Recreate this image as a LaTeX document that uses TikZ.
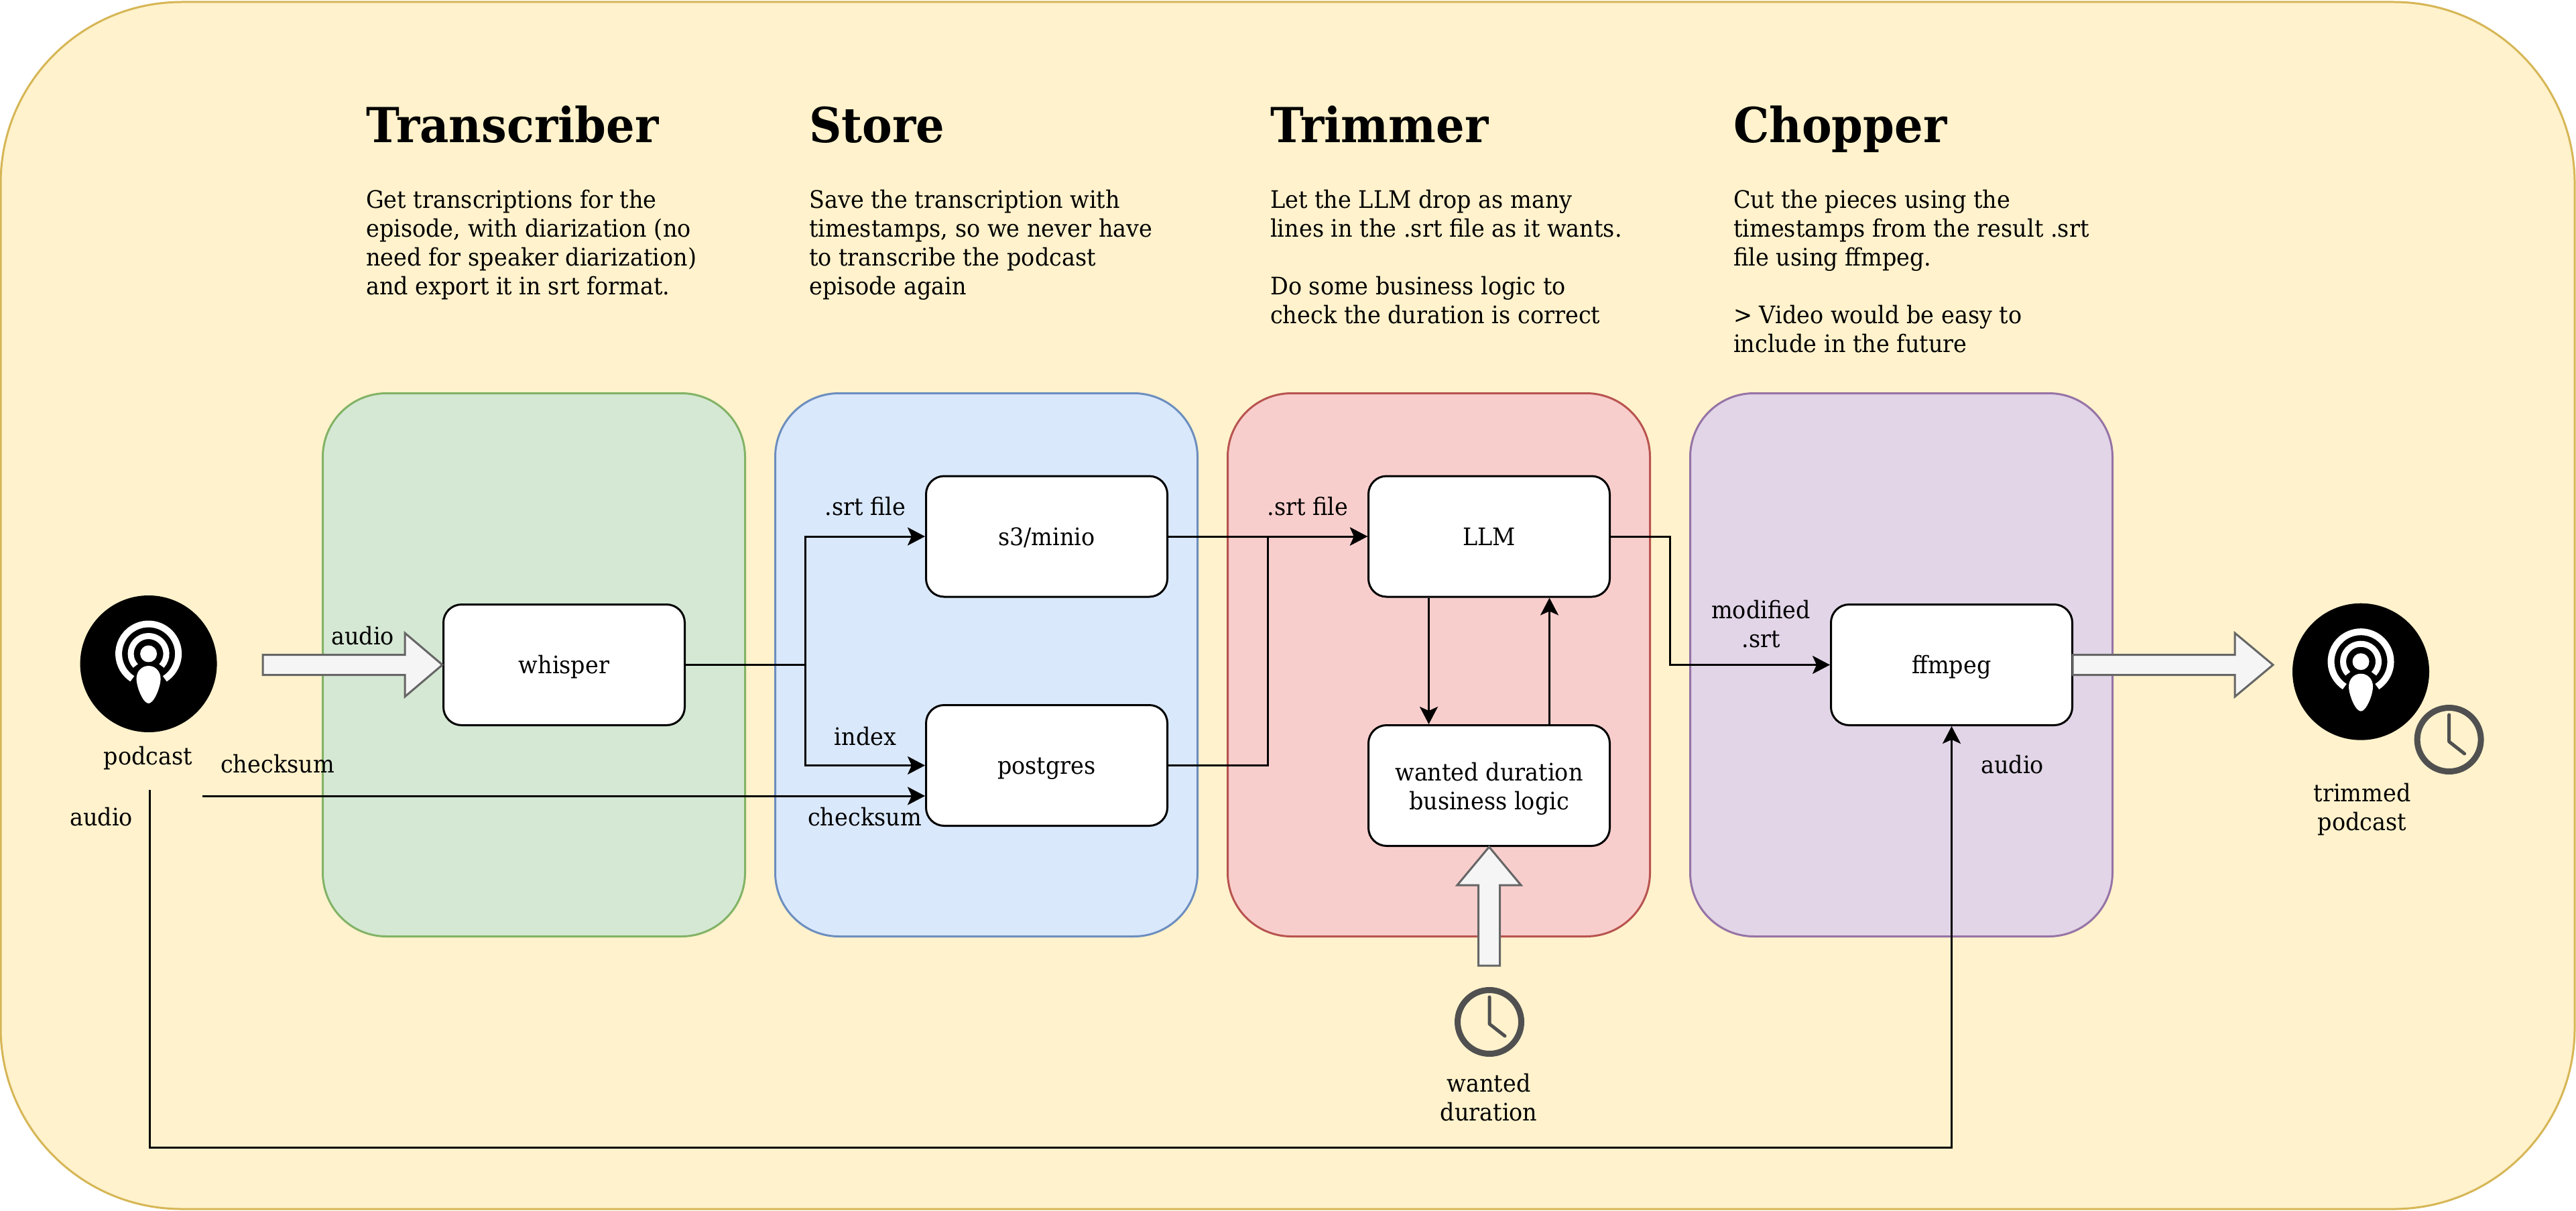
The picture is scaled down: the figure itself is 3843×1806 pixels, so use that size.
\documentclass[tikz,border=0pt]{standalone}
\usepackage{fontspec}
\setmainfont[FakeStretch=0.93]{DejaVu Serif}
\usetikzlibrary{arrows.meta,calc}
\definecolor{bgfill}{HTML}{FFF2CC}
\definecolor{bgline}{HTML}{D6B656}
\definecolor{greenfill}{HTML}{D5E8D4}
\definecolor{greenline}{HTML}{82B366}
\definecolor{bluefill}{HTML}{DAE8FC}
\definecolor{blueline}{HTML}{6C8EBF}
\definecolor{redfill}{HTML}{F8CECC}
\definecolor{redline}{HTML}{B85450}
\definecolor{purplefill}{HTML}{E1D5E7}
\definecolor{purpleline}{HTML}{9673A6}
\definecolor{clockgray}{HTML}{505050}
\tikzstyle{panel} = [rectangle, minimum width=630pt, minimum height=810pt, inner sep=0pt, rounded corners=95pt, line width=3pt]
\tikzstyle{procbox} = [rectangle, draw=black, fill=white, minimum width=360pt, minimum height=180pt, inner sep=0pt, rounded corners=27pt, line width=3pt, align=center, font=\fontsize{36}{43}\selectfont]
\tikzstyle{oneline} = [text height=36pt, text depth=10pt]
\tikzstyle{ptlabel} = [anchor=center, color=black, inner sep=0pt, align=center, font=\fontsize{36}{43}\selectfont]
\tikzstyle{heading} = [anchor=base west, color=black, inner sep=0pt, font=\fontsize{72}{86}\selectfont\bfseries]
\tikzstyle{bodytext} = [anchor=north west, color=black, inner sep=0pt, align=left, font=\fontsize{36}{43}\selectfont]
\tikzstyle{wire} = [draw=black, line width=3pt, -{Stealth[length=26pt,width=27pt,inset=6pt]}]
\tikzstyle{plainwire} = [draw=black, line width=3pt]
\tikzstyle{bigarrow} = [draw=black!60, fill=black!4, line width=3pt, line join=miter]
\tikzstyle{disc} = [circle, fill=black, minimum size=204pt, inner sep=0pt]
\tikzstyle{clockface} = [circle, draw=clockgray, line width=9pt, minimum size=95pt, inner sep=0pt]
\tikzset{
  podcastglyph/.pic={
    \begin{scope}[y=1pt, x=1pt, yshift=15pt]
      \draw[white, line width=10pt] (-57:44.5) arc[start angle=-57, end angle=237, radius=44.5];
      \draw[white, line width=9pt] (-43:26.5) arc[start angle=-43, end angle=223, radius=26.5];
      \fill[white] (0,0) circle (12.5);
      \fill[white] (0,-18) .. controls (10,-18) and (18,-26) .. (18,-37)
        .. controls (18,-50) and (8,-74) .. (0,-74)
        .. controls (-8,-74) and (-18,-50) .. (-18,-37)
        .. controls (-18,-26) and (-10,-18) .. (0,-18) -- cycle;
    \end{scope}
  },
  clockhands/.pic={
    \draw[clockgray, line width=5pt, line cap=round, line join=round] (0,-37) -- (0,3) -- (23,21);
  }
}

\begin{document}
\begin{tikzpicture}[x=1pt, y=-1pt]
  \useasboundingbox (0,0) rectangle (3843,1806);
  \node[at={(1921,903)}, rectangle, draw=bgline, fill=bgfill, line width=3pt, minimum width=3840pt, minimum height=1800pt, inner sep=0pt, rounded corners=270pt] (frame) {};

  % columns
  \node[at={(796.5,991.5)}, panel, draw=greenline, fill=greenfill] (transcol) {};
  \node[at={(1471.5,991.5)}, panel, draw=blueline, fill=bluefill] (storecol) {};
  \node[at={(2146.5,991.5)}, panel, draw=redline, fill=redfill] (trimcol) {};
  \node[at={(2836.5,991.5)}, panel, draw=purpleline, fill=purplefill] (chopcol) {};

  \node[at={(546,213)}, heading] (transtitle) {Transcriber};
  \node[at={(1207,213)}, heading] (storetitle) {Store};
  \node[at={(1895,213)}, heading] (trimtitle) {Trimmer};
  \node[at={(2586,213)}, heading] (choptitle) {Chopper};

  \node[at={(546,283)}, bodytext] (transtext) {Get transcriptions for the\\episode, with diarization (no\\need for speaker diarization)\\and export it in srt format.};
  \node[at={(1207,283)}, bodytext] (storetext) {Save the transcription with\\timestamps, so we never have\\to transcribe the podcast\\episode again};
  \node[at={(1895,283)}, bodytext] (trimtext) {Let the LLM drop as many\\lines in the .srt file as it wants.\\[43pt]Do some business logic to\\check the duration is correct};
  \node[at={(2586,283)}, bodytext] (choptext) {Cut the pieces using the\\timestamps from the result .srt\\file using ffmpeg.\\[43pt]> Video would be easy to\\include in the future};

  % boxes
  \node[at={(841.5,991.5)}, procbox, oneline] (whisper) {whisper};
  \node[at={(1561.5,800)}, procbox, oneline] (minio) {s3/minio};
  \node[at={(1561.5,1141.5)}, procbox, oneline] (postgres) {postgres};
  \node[at={(2221.5,800)}, procbox, oneline] (llm) {LLM};
  \node[at={(2221.5,1171.5)}, procbox] (logic) {\rule{0pt}{37pt}wanted duration\\business logic};
  \node[at={(2911.5,991.5)}, procbox, oneline] (ffmpeg) {ffmpeg};

  % icons
  \node[at={(221.6,990)}, disc] (podcast) {};
  \pic at (podcast.center) {podcastglyph};
  \node[at={(3522,1001.7)}, disc] (trimmed) {};
  \pic at (trimmed.center) {podcastglyph};
  \node[at={(3653.6,1103)}, clockface] (clockout) {};
  \pic at (clockout.center) {clockhands};
  \node[at={(2222,1524)}, clockface] (clockin) {};
  \pic at (clockin.center) {clockhands};

  % connectors
  \coordinate (split) at (1201.5,991.5);
  \coordinate (merge) at (1891.5,1141.5);
  \coordinate (bend) at (2491.5,800);
  \coordinate (checkstart) at (302,1187);
  \coordinate (audiostart) at (223,1178);
  \coordinate (audiolow) at (223,1711);
  \draw[plainwire] (whisper.east) -- (split);
  \draw[wire] (split) |- (minio.west);
  \draw[wire] (split) |- (postgres.west);
  \draw[wire] (minio.east) -- (llm.west);
  \draw[wire] (postgres.east) -- (merge) |- (llm.west);
  \draw[wire] (llm.east) -- (bend) |- (ffmpeg.west);
  \draw[wire] ([xshift=-90pt]llm.south) -- ([xshift=-90pt]logic.north);
  \draw[wire] ([xshift=90pt]logic.north) -- ([xshift=90pt]llm.south);
  \draw[wire] (checkstart) -- (checkstart -| postgres.west);
  \draw[wire] (audiostart) -- (audiolow) -| (ffmpeg.south);

  % block arrows
  \draw[bigarrow] (392,976.5) -- (604,976.5) -- (604,944) -- (660,991.5) -- (604,1039) -- (604,1006.5) -- (392,1006.5) -- cycle;
  \draw[bigarrow] (3092,976.5) -- (3334,976.5) -- (3334,944) -- (3391,991.5) -- (3334,1039) -- (3334,1006.5) -- (3092,1006.5) -- cycle;
  \draw[bigarrow] (2205.5,1440) -- (2205.5,1320) -- (2174,1320) -- (2221.5,1263) -- (2269,1320) -- (2237.5,1320) -- (2237.5,1440) -- cycle;

  % labels
  \node[at={(541,948)}, ptlabel] (audioin) {audio};
  \node[at={(221,1131)}, ptlabel] (podcastlabel) {podcast};
  \node[at={(414,1139)}, ptlabel] (checklabel) {checksum};
  \node[at={(151,1218)}, ptlabel] (audiolabel) {audio};
  \node[at={(1291,755)}, ptlabel] (srtone) {.srt file};
  \node[at={(1291,1098)}, ptlabel] (indexlabel) {index};
  \node[at={(1290,1218)}, ptlabel] (checktwo) {checksum};
  \node[at={(1951,755)}, ptlabel] (srttwo) {.srt file};
  \node[at={(2627,931)}, ptlabel] (modified) {modified\\.srt};
  \node[at={(3002,1140)}, ptlabel] (audioout) {audio};
  \node[at={(3524,1207)}, ptlabel] (trimmedlabel) {trimmed\\podcast};
  \node[at={(2221,1637)}, ptlabel] (wantedlabel) {wanted\\duration};
\end{tikzpicture}
\end{document}
